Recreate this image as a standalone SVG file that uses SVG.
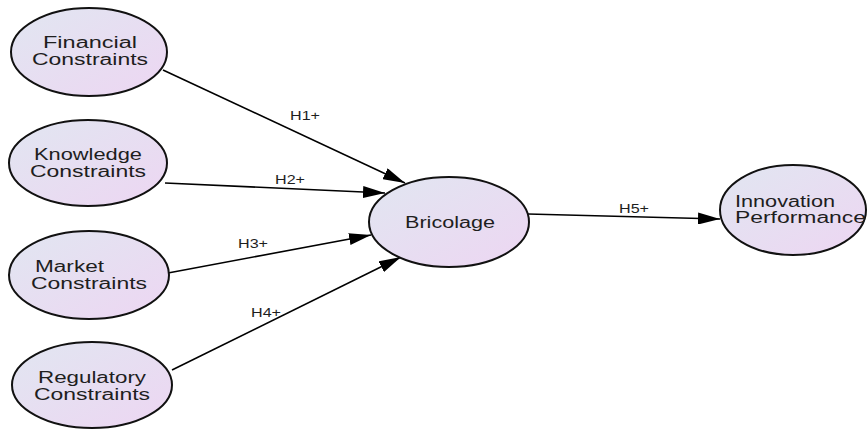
<svg xmlns="http://www.w3.org/2000/svg" width="868" height="434" viewBox="0 0 868 434">
<defs>
<linearGradient id="g" x1="0" y1="0" x2="1" y2="1">
<stop offset="0" stop-color="#e1e6f1"/>
<stop offset="1" stop-color="#edd6f2"/>
</linearGradient>
<marker id="a" viewBox="0 0 22 12" refX="22" refY="6" markerWidth="22" markerHeight="12" markerUnits="userSpaceOnUse" orient="auto">
<path d="M0,0 L22,6 L0,12 Z" fill="#000"/>
</marker>
<style>
.n ellipse{fill:url(#g);stroke:#111;stroke-width:2}
.n text{font-family:"Liberation Sans",Arial,sans-serif;font-size:16px;fill:#1e1e1e;text-anchor:middle}
.n text.s{text-anchor:start}
#edges line{stroke:#000;stroke-width:1.6;marker-end:url(#a)}
#edges text{font-family:"Liberation Sans",Arial,sans-serif;font-size:12px;fill:#1e1e1e;text-anchor:middle}
</style>
</defs>
<rect width="868" height="434" fill="#fff"/>
<g id="edges">
<line x1="163" y1="70" x2="405" y2="183"/>
<line x1="165" y1="183" x2="385" y2="193"/>
<line x1="168" y1="273" x2="371" y2="235"/>
<line x1="172" y1="370" x2="401" y2="257"/>
<line x1="528" y1="214" x2="720" y2="219"/>
<text x="305" y="120" textLength="30" lengthAdjust="spacingAndGlyphs">H1+</text>
<text x="290" y="184" textLength="30" lengthAdjust="spacingAndGlyphs">H2+</text>
<text x="253" y="248" textLength="30" lengthAdjust="spacingAndGlyphs">H3+</text>
<text x="266" y="317" textLength="30" lengthAdjust="spacingAndGlyphs">H4+</text>
<text x="634" y="213" textLength="30" lengthAdjust="spacingAndGlyphs">H5+</text>
</g>
<g id="financial" class="n">
<ellipse cx="89" cy="52" rx="78" ry="44"/>
<text x="90" y="48" textLength="94" lengthAdjust="spacingAndGlyphs">Financial</text>
<text x="90" y="65" textLength="116" lengthAdjust="spacingAndGlyphs">Constraints</text>
</g>
<g id="knowledge" class="n">
<ellipse cx="88" cy="163" rx="79" ry="43"/>
<text x="88" y="160" textLength="108" lengthAdjust="spacingAndGlyphs">Knowledge</text>
<text x="88" y="177" textLength="116" lengthAdjust="spacingAndGlyphs">Constraints</text>
</g>
<g id="market" class="n">
<ellipse cx="89" cy="275" rx="80" ry="44"/>
<text class="s" x="35" y="272" textLength="69" lengthAdjust="spacingAndGlyphs">Market</text>
<text x="89" y="289" textLength="116" lengthAdjust="spacingAndGlyphs">Constraints</text>
</g>
<g id="regulatory" class="n">
<ellipse cx="92" cy="385" rx="80" ry="43"/>
<text x="92" y="383" textLength="108" lengthAdjust="spacingAndGlyphs">Regulatory</text>
<text x="92" y="400" textLength="116" lengthAdjust="spacingAndGlyphs">Constraints</text>
</g>
<g id="bricolage" class="n">
<ellipse cx="449" cy="222" rx="80" ry="45"/>
<text x="450" y="228" textLength="90" lengthAdjust="spacingAndGlyphs">Bricolage</text>
</g>
<g id="innovation" class="n">
<ellipse cx="793" cy="210" rx="73" ry="45"/>
<text class="s" x="735" y="207" textLength="100" lengthAdjust="spacingAndGlyphs">Innovation</text>
<text class="s" x="735" y="223" textLength="131" lengthAdjust="spacingAndGlyphs">Performance</text>
</g>
</svg>
